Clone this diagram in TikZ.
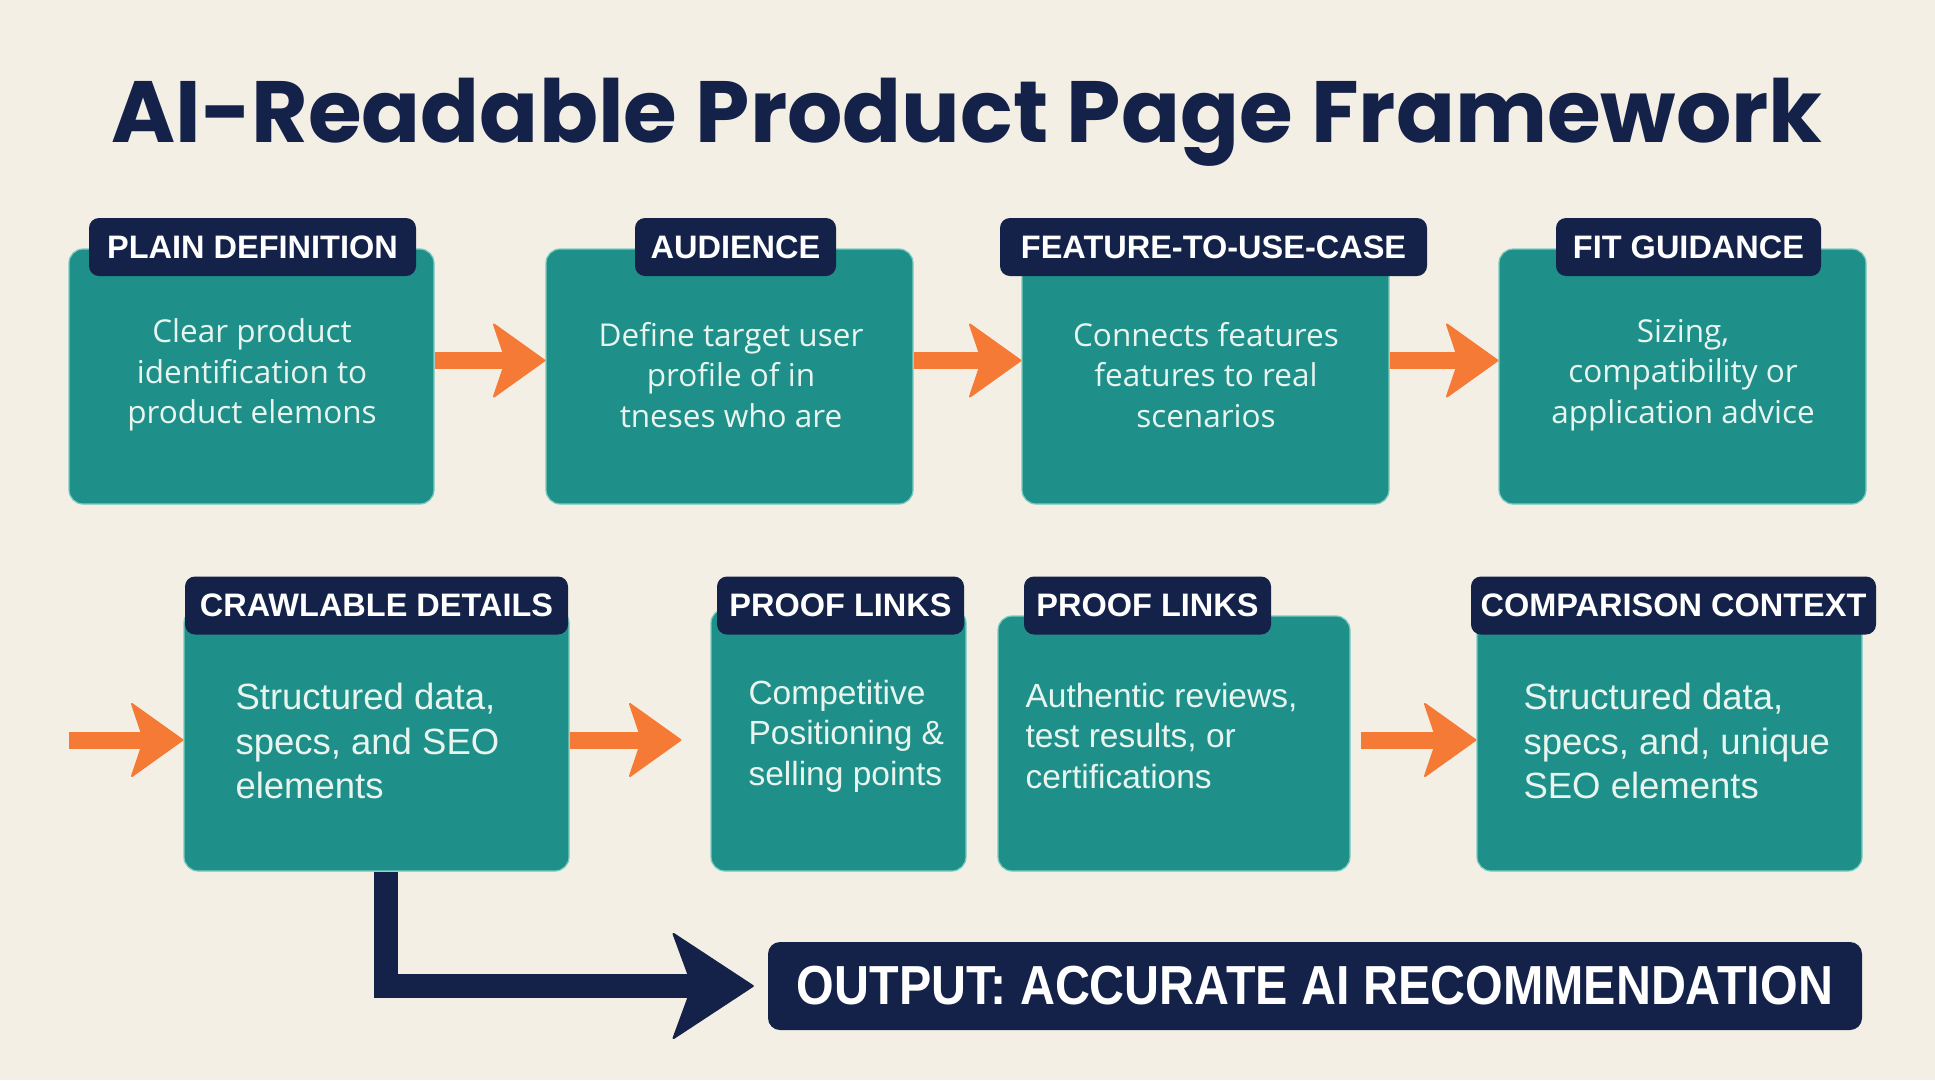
\documentclass[tikz,border=0pt]{standalone}
\usepackage{fontspec}
\setmainfont{Open Sans}
\newfontfamily\titlefont{Poppins}
\newfontfamily\lblfont{Liberation Sans}
\newfontfamily\bodyfont{Liberation Sans}
\usetikzlibrary{arrows.meta}
\definecolor{bgcol}{HTML}{F4EFE4}
\definecolor{tealbox}{HTML}{1F8F89}
\definecolor{tealedge}{HTML}{7CCBC0}
\definecolor{navy}{HTML}{14224A}
\definecolor{orangec}{HTML}{F47A36}
\definecolor{boxtext}{HTML}{E8F5EF}
\tikzset{
  box/.style={fill=tealbox, draw=tealedge, line width=1.2pt, rounded corners=14pt, inner sep=0pt},
  lbl/.style={fill=navy, rounded corners=10pt, text=white, inner sep=0pt, minimum height=58pt,
    font=\lblfont\bfseries\fontsize{32.5}{36}\selectfont},
  toptext/.style={text=boxtext, align=center, font=\fontsize{31.5}{40.5}\selectfont},
  bigtext/.style={text=boxtext, align=left, anchor=west, font=\bodyfont\fontsize{36.5}{44.5}\selectfont},
  smalltext/.style={text=boxtext, align=left, anchor=west, font=\bodyfont\fontsize{33.5}{40.5}\selectfont},
  oarrow/.style={draw=orangec, line width=17pt,
    -{Stealth[length=54pt,width=77pt,inset=13pt,round,line width=2pt]}},
  narrow/.style={draw=navy, line width=24pt,
    -{Stealth[length=83pt,width=109pt,inset=20pt,round,line width=2pt]}}
}
\begin{document}
\begin{tikzpicture}[x=1pt,y=-1pt]
\fill[bgcol] (0,0) rectangle (1935,1080);
\useasboundingbox (0,0) rectangle (1935,1080);

% title
\node[anchor=base, text=navy, font=\titlefont\bfseries\fontsize{87}{92}\selectfont] (title) at (967,142) {AI-Readable Product Page Framework};

% row 1 boxes
\node[box, minimum width=365pt, minimum height=255pt] (b1) at (251.5,376.5) {};
\node[box, minimum width=367pt, minimum height=255pt] (b2) at (729.5,376.5) {};
\node[box, minimum width=367pt, minimum height=255pt] (b3) at (1205.5,376.5) {};
\node[box, minimum width=367pt, minimum height=255pt] (b4) at (1682.5,376.5) {};

\node[lbl, minimum width=327pt] (l1) at (252.5,247) {PLAIN DEFINITION};
\node[lbl, minimum width=201pt] (l2) at (735.5,247) {AUDIENCE};
\node[lbl, minimum width=427pt] (l3) at (1213.5,247) {FEATURE-TO-USE-CASE};
\node[lbl, minimum width=265pt] (l4) at (1688.5,247) {FIT GUIDANCE};

\node[toptext] (t1) at (252,375) {Clear product\\identification to\\product elemons};
\node[toptext] (t2) at (731,375) {Define target user\\profile of in\\tneses who are};
\node[toptext] (t3) at (1206,375) {Connects features\\features to real\\scenarios};
\node[toptext] (t4) at (1683,375) {Sizing,\\compatibility or\\application advice};

\draw[oarrow] ([yshift=16pt]b1.east) -- ([yshift=16pt]b2.west);
\draw[oarrow] ([yshift=16pt]b2.east) -- ([yshift=16pt]b3.west);
\draw[oarrow] ([yshift=16pt]b3.east) -- ([yshift=16pt]b4.west);

% row 2 boxes
\node[box, minimum width=385pt, minimum height=262pt] (b5) at (376.5,740) {};
\node[box, minimum width=255pt, minimum height=262pt] (b6) at (838.5,740) {};
\node[box, minimum width=352pt, minimum height=255pt] (b7) at (1174,743.5) {};
\node[box, minimum width=385pt, minimum height=262pt] (b8) at (1669.5,740) {};

\node[lbl, minimum width=383pt] (l5) at (376.5,605.5) {CRAWLABLE DETAILS};
\node[lbl, minimum width=247pt] (l6) at (840.5,605.5) {PROOF LINKS};
\node[lbl, minimum width=247pt] (l7) at (1147.5,605.5) {PROOF LINKS};
\node[lbl, minimum width=405pt] (l8) at (1673.5,605.5) {COMPARISON CONTEXT};

\node[bigtext] (t5) at (232,741) {Structured data,\\specs, and SEO\\elements};
\node[smalltext] (t6) at (745,736) {Competitive\\Positioning \&\\selling points};
\node[smalltext] (t7) at (1022,736) {Authentic reviews,\\test results, or\\certifications};
\node[bigtext] (t8) at (1520,741) {Structured data,\\specs, and, unique\\SEO elements};

\coordinate (in5) at (69,740);
\draw[oarrow] (in5) -- (b5.west);
\draw[oarrow, shorten >=29pt] (b5.east) -- (b6.west);
\draw[oarrow, shorten <=10pt] (b7.east |- b8.west) -- (b8.west);

% output
\node[fill=navy, rounded corners=12pt, minimum width=1094pt, minimum height=88pt, inner sep=0pt,
  text=white, font=\lblfont\bfseries\fontsize{55}{60}\selectfont] (out) at (1315,986)
  {\scalebox{0.88}[1]{OUTPUT: ACCURATE AI RECOMMENDATION}};

\draw[narrow, shorten >=14pt] ([xshift=9pt]b5.south) |- (out.west);
\end{tikzpicture}
\end{document}
